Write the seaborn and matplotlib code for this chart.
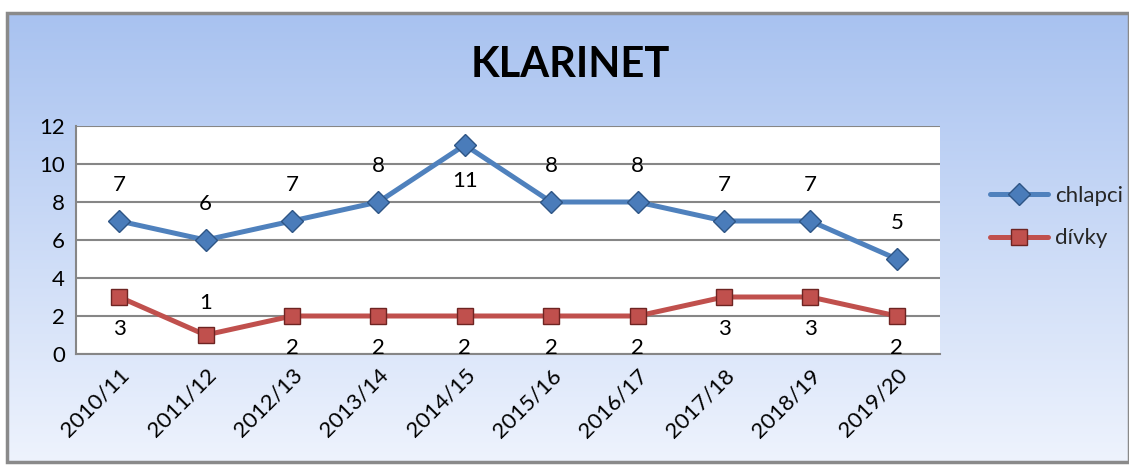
import numpy as np
import pandas as pd
import matplotlib
matplotlib.use("Agg")
import matplotlib.pyplot as plt
import seaborn as sns
from matplotlib.patches import Rectangle

years = ["2010/11", "2011/12", "2012/13", "2013/14", "2014/15",
         "2015/16", "2016/17", "2017/18", "2018/19", "2019/20"]
chlapci = [7, 6, 7, 8, 11, 8, 8, 7, 7, 5]
divky = [3, 1, 2, 2, 2, 2, 2, 3, 3, 2]
# label position: 1 above the point, -1 below
chlapci_pos = [1, 1, 1, 1, -1, 1, 1, 1, 1, 1]
divky_pos = [-1, 1, -1, -1, -1, -1, -1, -1, -1, -1]

sns.set_theme(style="white")
plt.rcParams["font.family"] = ["Lato", "DejaVu Sans"]

fig = plt.figure(figsize=(11.29, 4.68), dpi=100)
fig.patch.set_facecolor("white")

# gradient frame
bg = fig.add_axes([7 / 1129, 6 / 468, 1122 / 1129, 449 / 468])
grad = np.linspace(0, 1, 256).reshape(-1, 1)
cmap = matplotlib.colors.LinearSegmentedColormap.from_list("bg", ["#A8C2F0", "#EEF3FD"])
bg.imshow(grad, aspect="auto", cmap=cmap, extent=[0, 1, 1, 0], origin="upper")
bg.set_xlim(0, 1)
bg.set_ylim(1, 0)
bg.axis("off")
bg.add_patch(Rectangle((0, 0), 1, 1, fill=False, edgecolor="#8a8a8a", lw=2.5,
                       transform=bg.transAxes, clip_on=False))

ax = fig.add_axes([76 / 1129, 114 / 468, 864 / 1129, 228 / 468])
ax.set_facecolor("white")

df = pd.DataFrame({"rok": years, "chlapci": chlapci, "dívky": divky})
x = np.arange(len(years))

sns.lineplot(x=x, y=df["chlapci"], ax=ax, color="#4F81BD", lw=3.6, marker="D",
             markersize=11, markerfacecolor="#4A7CBA", markeredgecolor="#2E5585",
             markeredgewidth=1, label="chlapci")
sns.lineplot(x=x, y=df["dívky"], ax=ax, color="#C0504D", lw=3.6, marker="s",
             markersize=11, markerfacecolor="#C0504D", markeredgecolor="#6E2422",
             markeredgewidth=1, label="dívky")

for xi, v, p in zip(x, chlapci, chlapci_pos):
    ax.annotate(str(v), (xi, v), xytext=(0, 26 * p), textcoords="offset points",
                ha="center", va="center", fontsize=16, color="black")
for xi, v, p in zip(x, divky, divky_pos):
    ax.annotate(str(v), (xi, v), xytext=(0, 23 * p), textcoords="offset points",
                ha="center", va="center", fontsize=16, color="black")

ax.set_xlim(-0.5, len(years) - 0.5)
ax.set_ylim(0, 12)
ax.set_yticks(range(0, 13, 2))
ax.set_xticks(x)
ax.set_xticklabels(years, rotation=45, ha="right", rotation_mode="anchor")
ax.tick_params(axis="both", labelsize=16, length=0, pad=8, colors="black")
ax.yaxis.grid(True, color="#868686", lw=1.5)
ax.set_axisbelow(True)
ax.set_xlabel("")
ax.set_ylabel("")
for s in ["top", "right"]:
    ax.spines[s].set_visible(False)
for s in ["left", "bottom"]:
    ax.spines[s].set_color("#868686")
    ax.spines[s].set_linewidth(1.5)

ax.legend(loc="center left", bbox_to_anchor=(1.035, 0.6), frameon=False,
          fontsize=16, handlelength=2.6, labelspacing=1.0, handletextpad=0.3)

fig.text(570 / 1129, 1 - 65 / 468, "KLARINET", ha="center", va="center",
         fontsize=30, fontweight="bold", color="black")

fig.savefig("out.png", dpi=100)
